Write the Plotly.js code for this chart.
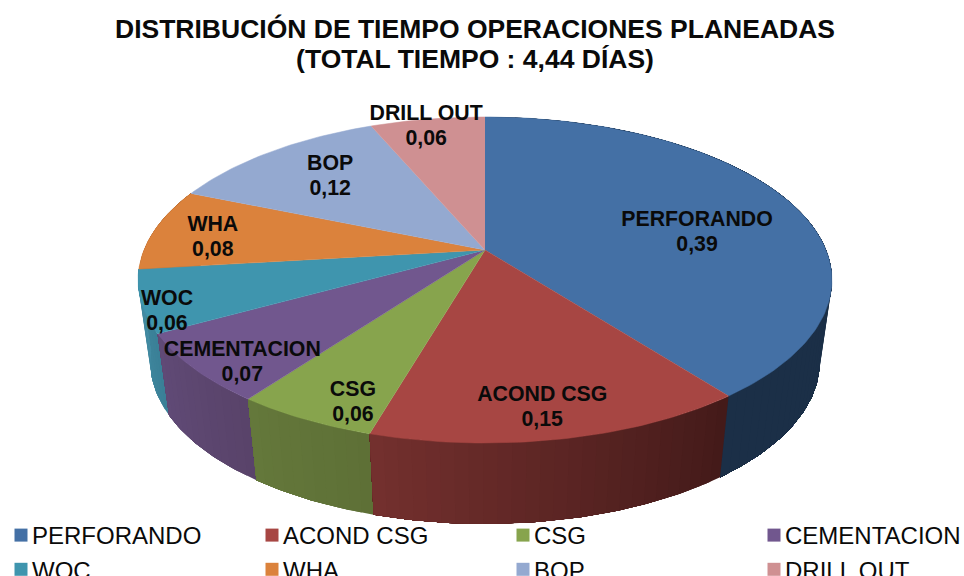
<!DOCTYPE html>
<html><head><meta charset="utf-8">
<script src="https://cdn.plot.ly/plotly-3.0.1.min.js"></script>
<style>html,body{margin:0;padding:0;width:964px;height:576px;overflow:hidden;background:#fff}
#chart{position:absolute;left:-20px;top:0;width:1040px;height:600px}</style>
</head><body><div id="chart"></div>
<script>
// Data
const categories = ['PERFORANDO','ACOND CSG','CSG','CEMENTACION','WOC','WHA','BOP','DRILL OUT'];
const values = [0.3916,0.1479,0.0553,0.068,0.061,0.0809,0.1221,0.0632];
const topColors = ['#4470a5','#a74643','#87a44d','#71578e','#3f95ae','#db823c','#94a9d0','#cf9092'];
const wallStart = ['#1b2f47','#431a19','#5e7036','#594369','#3a7f96','#a8622c','#6f81a0','#9d6d6f'];
const wallEnd   = ['#1b2f47','#74302e','#64783b','#604a76','#438ca3','#a8622c','#6f81a0','#9d6d6f'];

// Projection of the pie disc (perspective view), in page pixels
const K = 0.184, CX = 485;
const TOP = {a:341, c:250, b:-111.5};
const BOT = {a:329, c:332, b:-95.5};
function proj(s, u, v){ const d = 1 + K*v; return [CX + s.a*u/d, (s.c + s.b*v)/d]; }
function onRim(s, deg, r){ const t = deg*Math.PI/180; return proj(s, r*Math.sin(t), r*Math.cos(t)); }
function hex(c){ return [1,3,5].map(i=>parseInt(c.substr(i,2),16)); }
function mix(a,b,f){ const A=hex(a),B=hex(b); return 'rgb('+A.map((x,i)=>Math.round(x+(B[i]-x)*f)).join(',')+')'; }

const total = values.reduce((a,b)=>a+b,0);
const slices = []; let cum = 0;
values.forEach((val,i)=>{ const s = cum/total*360; cum += val; slices.push({i, s, e: cum/total*360}); });

const traces = [];
function wallQuad(a,b,color){
  const xs=[], ys=[];
  for(let d=a;d<b;d+=1){ const q=onRim(TOP,d,1); xs.push(q[0]); ys.push(q[1]); }
  let q=onRim(TOP,b,1); xs.push(q[0]); ys.push(q[1]);
  q=onRim(BOT,b,1); xs.push(q[0]); ys.push(q[1]);
  for(let d=b;d>a;d-=1){ const r=onRim(BOT,d,1); xs.push(r[0]); ys.push(r[1]); }
  q=onRim(BOT,a,1); xs.push(q[0]); ys.push(q[1]);
  traces.push({type:'scatter',mode:'lines',x:xs,y:ys,fill:'toself',fillcolor:color,
    line:{width:0},showlegend:false,hoverinfo:'skip'});
}
// Side walls: slices far to near, each a gradient of overlapping bands swept across the slice
const order = slices.slice().sort((p,q)=>Math.cos((q.s+q.e)*Math.PI/360)-Math.cos((p.s+p.e)*Math.PI/360));
order.forEach(sl=>{
  const from = sl.s, to = sl.e;
  if(Math.cos((from+to)*Math.PI/360) > 0.35 && Math.cos(from*Math.PI/180) > 0.12 && Math.cos(to*Math.PI/180) > 0.12) return;
  const n = Math.max(1, Math.ceil((to-from)/2));
  for(let k=0;k<n;k++){
    // each band runs to the slice end, so later bands lie over earlier ones with no seam
    wallQuad(from+(to-from)*k/n, to, mix(wallStart[sl.i],wallEnd[sl.i],(k+0.5)/n));
  }
});
// Top faces
slices.forEach(sl=>{
  const xs=[CX], ys=[TOP.c];
  for(let d=sl.s;d<sl.e;d+=1){ const q=onRim(TOP,d,1); xs.push(q[0]); ys.push(q[1]); }
  const q=onRim(TOP,sl.e,1); xs.push(q[0]); ys.push(q[1]);
  traces.push({type:'scatter',mode:'lines',x:xs,y:ys,fill:'toself',fillcolor:topColors[sl.i],
    line:{color:topColors[sl.i],width:0.5},name:categories[sl.i],showlegend:false,
    hovertemplate:categories[sl.i]+': '+values[sl.i].toFixed(2)+'<extra></extra>'});
});
// Data labels: anchored at the slice mid-angle, then nudged as in the reference
const labelNudgeX = [19,13,-28,-71,-109.5,-66,-16,-21];
const labelNudgeY = [14,50.5,56,43,31,1,-9,-37];
const lx=[], ly=[];
slices.forEach(sl=>{ const q=onRim(TOP,(sl.s+sl.e)/2,0.62); lx.push(q[0]+labelNudgeX[sl.i]); ly.push(q[1]+labelNudgeY[sl.i]); });
const labelFont = {family:'"Liberation Sans",Arial,sans-serif',size:21.3,color:'#0a0a0a'};
traces.push({type:'scatter',mode:'text',x:lx,y:ly.map(y=>y-12.5),text:categories.map(c=>'<b>'+c+'</b>'),
  textposition:'middle center',textfont:labelFont,showlegend:false,hoverinfo:'skip',cliponaxis:false});
traces.push({type:'scatter',mode:'text',x:lx,y:ly.map(y=>y+12.5),text:values.map(v=>'<b>'+v.toFixed(2).replace('.',',')+'</b>'),
  textposition:'middle center',textfont:labelFont,showlegend:false,hoverinfo:'skip',cliponaxis:false});
// Legend entries
categories.forEach((c,i)=>{
  traces.push({type:'scatter',mode:'markers',x:[null],y:[null],name:c,
    marker:{symbol:'square',size:13,color:topColors[i]},hoverinfo:'skip'});
});

const layout = {
  width:1040,height:600,autosize:false,
  paper_bgcolor:'#fff',plot_bgcolor:'#fff',
  margin:{l:0,r:0,t:0,b:0,autoexpand:false},
  title:{text:'<b>DISTRIBUCIÓN DE TIEMPO OPERACIONES PLANEADAS<br>(TOTAL TIEMPO : 4,44 DÍAS)</b>',
    font:{family:'"Liberation Sans",Arial,sans-serif',size:26.5,color:'#0a0a0a'},
    x:(475+20)/1040,xanchor:'center',y:1-38/600,yanchor:'top'},
  xaxis:{range:[-20,1020],visible:false,fixedrange:true},
  yaxis:{range:[600,0],visible:false,fixedrange:true},
  showlegend:true,
  legend:{orientation:'h',x:12/1040,xanchor:'left',y:1-513/600,yanchor:'top',
    traceorder:'normal',entrywidth:206,entrywidthmode:'pixels',itemwidth:30,
    font:{family:'"Liberation Sans",Arial,sans-serif',size:24,color:'#0a0a0a'},
    bgcolor:'rgba(0,0,0,0)',borderwidth:0,itemclick:false,itemdoubleclick:false}
};
Plotly.newPlot('chart',traces,layout,{displayModeBar:false,staticPlot:true}).then(gd=>{
  // reference swatches sit closer to their labels than the legend's minimum item width
  gd.querySelectorAll('.legend .legendsymbols').forEach(g=>g.setAttribute('transform','translate(9,0)'));
  // reference title has tighter line spacing than the default 1.3em
  const lines = gd.querySelectorAll('.gtitle tspan.line');
  if(lines.length>1) lines[1].setAttribute('dy','30px');
});
</script></body></html>
